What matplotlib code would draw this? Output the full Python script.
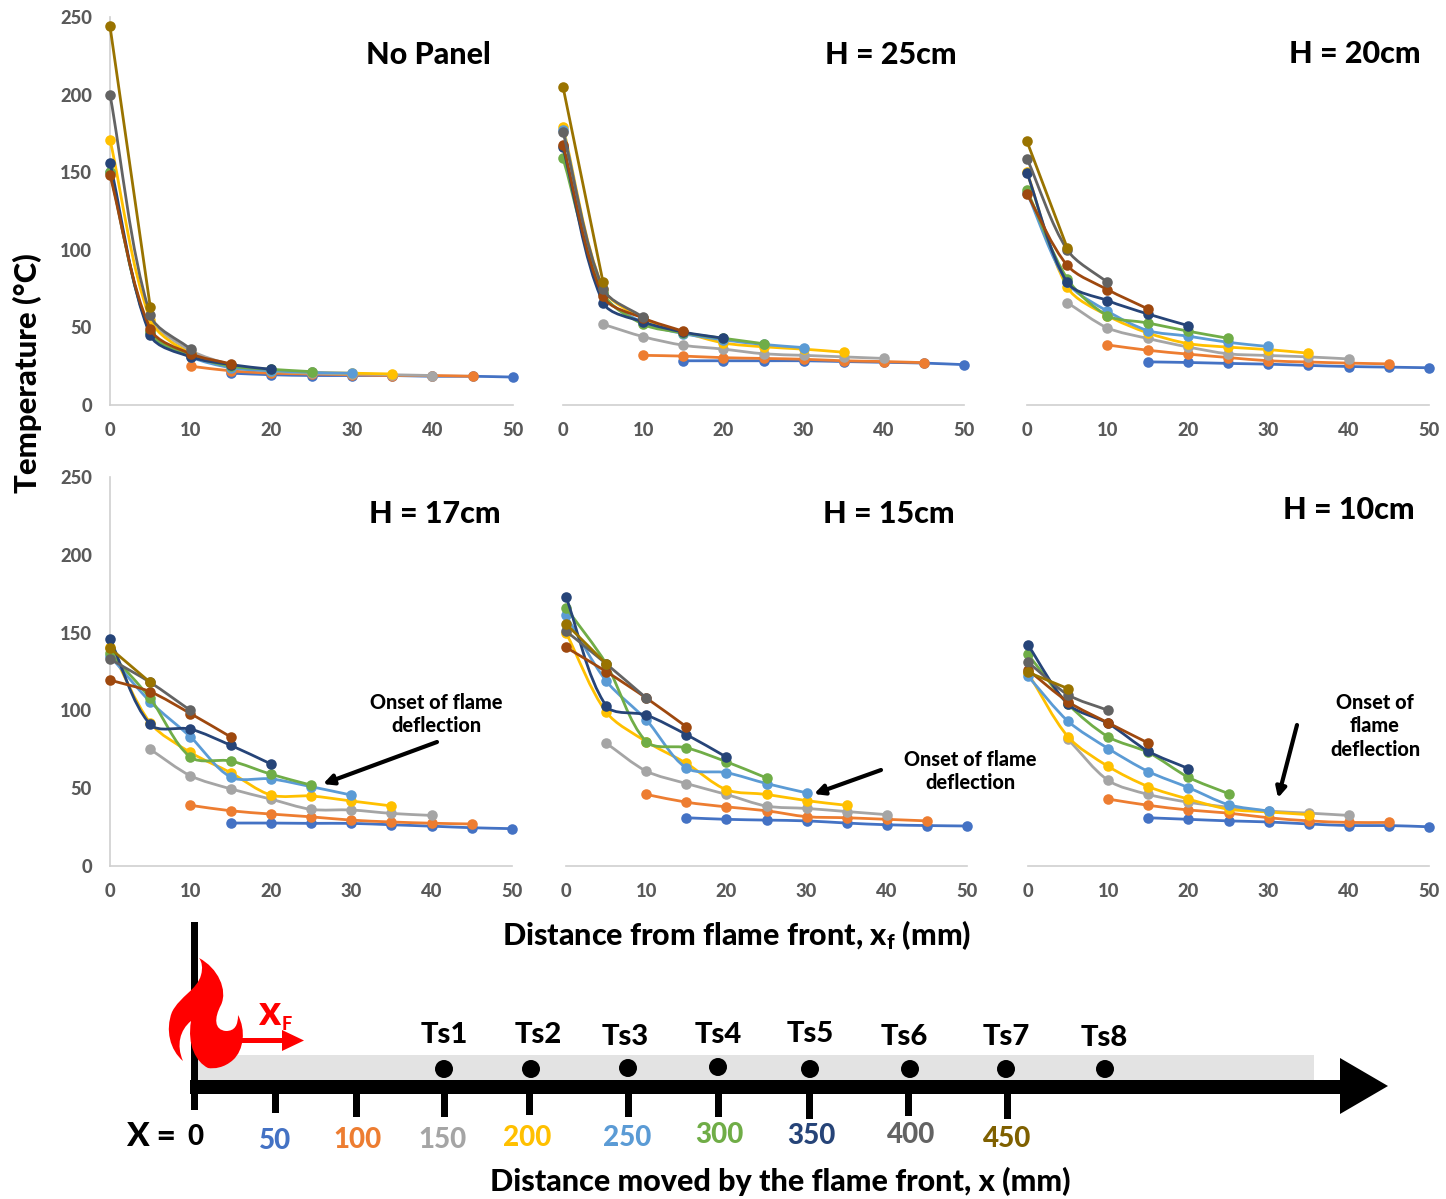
import numpy as np
import matplotlib
matplotlib.use("Agg")
import matplotlib.pyplot as plt
from matplotlib.path import Path
from matplotlib.patches import PathPatch, Rectangle, Polygon, Circle

plt.rcParams['font.family'] = ['Lato', 'DejaVu Sans']
plt.rcParams['font.weight'] = 'bold'
plt.rcParams['mathtext.default'] = 'regular'

W, H = 1446, 1199

# ---- data: temperature (deg C) per thermocouple location x (mm) ----
xf_step = 5
x_locations = ['50', '100', '150', '200', '250', '300', '350', '400', '450']
series_names = ['blue', 'orange', 'gray', 'yellow', 'lightblue', 'green', 'navy', 'brown', 'dgray', 'olive']
series_start = [15, 10, 5, 0, 0, 0, 0, 0, 0, 0]
series_colors = ['#4472C4', '#ED7D31', '#A5A5A5', '#FFC000', '#5B9BD5', '#70AD47', '#264478', '#9E480E', '#636363', '#997300']
panel_titles = ['No Panel', 'H = 25cm', 'H = 20cm', 'H = 17cm', 'H = 15cm', 'H = 10cm']
y_ticks = [0, 50, 100, 150, 200, 250]
x_ticks = [0, 10, 20, 30, 40, 50]

np_blue = [20.5, 19.5, 19, 19, 19, 18.5, 18.5, 18]
np_orange = [25, 22, 20.5, 20, 19.5, 19, 19, 18.5]
np_gray = [52, 35, 26, 22, 20.5, 20, 19.5, 19]
np_yellow = [171, 55, 33, 25, 22, 21, 20.5, 20]
np_lightblue = [150, 47, 31, 24, 22, 21, 20.5]
np_green = [150, 47, 32, 25, 23, 21.5]
np_navy = [156, 45, 31, 26, 23]
np_brown = [148, 49, 33, 26.5]
np_dgray = [200, 58, 36]
np_olive = [244, 63]

h25_blue = [28.5, 28.5, 28.5, 28.5, 28, 27.5, 27, 26]
h25_orange = [32, 31.5, 30.5, 30, 29.5, 28.5, 28, 27.3]
h25_gray = [52, 44, 38.5, 36, 33, 32, 31, 30]
h25_yellow = [179, 75, 56, 47, 40, 37.5, 36, 34]
h25_lightblue = [177.5, 72, 53, 46, 42, 39, 37]
h25_green = [159, 72, 52, 46.5, 43, 39.5]
h25_navy = [166, 66, 53.5, 47, 43]
h25_brown = [167.5, 70, 56, 47.5]
h25_dgray = [176, 75, 56.5]
h25_olive = [205, 79]

h20_blue = [27.8, 27.4, 26.8, 26.3, 25.5, 24.8, 24.4, 24]
h20_orange = [38.7, 35.3, 32.8, 30.6, 28.5, 27.7, 27, 26.5]
h20_gray = [66, 49.7, 42.9, 37.4, 33, 31.9, 31, 29.7]
h20_yellow = [150, 76, 57.6, 46.5, 39.6, 37.3, 35.7, 33.4]
h20_lightblue = [136.7, 79, 60.5, 48, 44.4, 40.4, 37.7]
h20_green = [138.4, 81.5, 57.6, 52.9, 47.6, 43]
h20_navy = [149.6, 79, 67.3, 58.7, 51.2]
h20_brown = [136, 90, 74.4, 62]
h20_dgray = [158.8, 100, 79]
h20_olive = [169.8, 101.3]

h17_blue = [27.6, 27.6, 27.4, 27.4, 26.5, 25.6, 24.6, 24]
h17_orange = [39, 35.5, 33.4, 31.6, 29.5, 28.3, 27.5, 27]
h17_gray = [75, 58, 49.6, 43, 36.4, 36, 33.8, 32.5]
h17_yellow = [141, 92, 73, 60, 45.6, 45, 41.8, 38.6]
h17_lightblue = [135, 105.6, 83, 57.2, 56, 51, 45.6]
h17_green = [137, 107.7, 70, 67.5, 59, 52]
h17_navy = [146, 91, 88, 77.6, 65.6]
h17_brown = [119.5, 112, 98, 83]
h17_dgray = [133, 118, 100]
h17_olive = [140, 118]

h15_blue = [31, 30, 29.5, 29, 27.6, 26.5, 26, 25.7]
h15_orange = [46, 41, 38, 35.5, 31.7, 31, 30, 29]
h15_gray = [79, 61, 53, 46, 38.5, 37, 35, 33]
h15_yellow = [150, 99, 80, 66, 49, 46, 42, 39]
h15_lightblue = [161, 119, 94, 63, 60, 53, 47]
h15_green = [166, 130, 80, 76, 67, 56.6]
h15_navy = [173, 103, 97, 84.5, 70]
h15_brown = [140.5, 125, 108, 89.5]
h15_dgray = [151, 130, 108]
h15_olive = [155.6, 130]

h10_blue = [31, 30, 29, 28.3, 27, 26, 26, 25.2]
h10_orange = [43, 39, 36, 34, 31, 29, 28, 28]
h10_gray = [81.4, 55, 46, 41, 37.8, 35.3, 34, 32.5]
h10_yellow = [124, 83, 64, 51, 43, 36.5, 34.7, 33]
h10_lightblue = [122, 93, 75.5, 60.7, 50.4, 39.4, 35.3]
h10_green = [136, 104, 83, 73, 57, 46.5]
h10_navy = [142, 104, 91.6, 73.7, 62.6]
h10_brown = [126, 105.5, 92, 79]
h10_dgray = [131, 110, 100]
h10_olive = [124.5, 114]

panel_data = [
    [np_blue, np_orange, np_gray, np_yellow, np_lightblue, np_green, np_navy, np_brown, np_dgray, np_olive],
    [h25_blue, h25_orange, h25_gray, h25_yellow, h25_lightblue, h25_green, h25_navy, h25_brown, h25_dgray, h25_olive],
    [h20_blue, h20_orange, h20_gray, h20_yellow, h20_lightblue, h20_green, h20_navy, h20_brown, h20_dgray, h20_olive],
    [h17_blue, h17_orange, h17_gray, h17_yellow, h17_lightblue, h17_green, h17_navy, h17_brown, h17_dgray, h17_olive],
    [h15_blue, h15_orange, h15_gray, h15_yellow, h15_lightblue, h15_green, h15_navy, h15_brown, h15_dgray, h15_olive],
    [h10_blue, h10_orange, h10_gray, h10_yellow, h10_lightblue, h10_green, h10_navy, h10_brown, h10_dgray, h10_olive],
]

fig = plt.figure(figsize=(W / 100, H / 100), dpi=100, facecolor='white')


def add_ax(x0, x1, ytop, ybot):
    return fig.add_axes([x0 / W, 1 - ybot / H, (x1 - x0) / W, (ybot - ytop) / H])


panel_boxes = [(110, 513, 17, 405), (563, 964, 17, 405), (1027, 1429, 17, 405),
               (110, 512, 477, 866), (566, 967, 477, 866), (1028, 1429, 477, 866)]


def smooth_path(ax, xs, ys):
    """Smoothed line like a spreadsheet chart: Bezier through every point."""
    P = ax.transData.transform(np.column_stack([xs, ys]))
    verts = [P[0]]
    codes = [Path.MOVETO]
    n = len(P)
    for i in range(n - 1):
        p0 = P[max(i - 1, 0)]
        p1 = P[i]
        p2 = P[i + 1]
        p3 = P[min(i + 2, n - 1)]
        seg = np.linalg.norm(p2 - p1)
        t1 = (p2 - p0) / max(np.linalg.norm(p2 - p0), 1e-9)
        t2 = (p3 - p1) / max(np.linalg.norm(p3 - p1), 1e-9)
        verts += [p1 + t1 * seg * 0.3, p2 - t2 * seg * 0.3, p2]
        codes += [Path.CURVE4] * 3
    verts = ax.transData.inverted().transform(np.array(verts))
    return Path(verts, codes)


for k, box in enumerate(panel_boxes):
    ax = add_ax(*box)
    ax.set_xlim(0, 50)
    ax.set_ylim(0, 250)
    ax.patch.set_alpha(0)
    for s in ['top', 'right']:
        ax.spines[s].set_visible(False)
    ax.spines['left'].set_visible(k in (0, 3))
    for s in ['left', 'bottom']:
        ax.spines[s].set_color('#CFCFCF')
        ax.spines[s].set_linewidth(1.2)
    ax.set_xticks(x_ticks)
    ax.tick_params(axis='both', length=0, labelcolor='#595959', labelsize=13.2)
    ax.tick_params(axis='x', pad=12.5)
    ax.tick_params(axis='y', pad=13)
    if k in (0, 3):
        ax.set_yticks(y_ticks)
    else:
        ax.set_yticks([])
    for lab in ax.get_xticklabels() + ax.get_yticklabels():
        lab.set_fontweight(900)
    for i, vals in enumerate(panel_data[k]):
        xs = series_start[i] + xf_step * np.arange(len(vals))
        z = 3 + i * 0.01
        ax.add_patch(PathPatch(smooth_path(ax, xs, vals), fc='none', ec=series_colors[i],
                               lw=2.0, zorder=z, clip_on=False))
        ax.plot(xs, vals, 'o', color=series_colors[i], ms=7.6, mew=0, zorder=z, clip_on=False)

# overlay in pixel coordinates for titles, notes and the schematic
ov = fig.add_axes([0, 0, 1, 1], zorder=10)
ov.set_xlim(0, W)
ov.set_ylim(H, 0)
ov.axis('off')


def txt(x, y, s, size, color='black', **kw):
    ov.text(x, y, s, fontsize=size, color=color, ha='center', va='center', fontweight=900, **kw)


title_pos = [(428, 55), (891, 55), (1355, 54), (435, 514), (889, 514), (1349, 510)]
for (tx, ty), t in zip(title_pos, panel_titles):
    txt(tx, ty, t, 22)

txt(27, 373, 'Temperature (°C)', 22.4, rotation=90)
txt(737, 935, r'Distance from flame front, x$_{\mathregular{f}}$ (mm)', 22)
txt(780, 1181, 'Distance moved by the flame front, x (mm)', 22)

txt(436, 714, 'Onset of flame\ndeflection', 14.3, linespacing=1.3)
txt(970, 771, 'Onset of flame\ndeflection', 14.3, linespacing=1.3)
txt(1375, 726, 'Onset of\nflame\ndeflection', 14.3, linespacing=1.3)
for start, end in [((437, 742), (323, 784)), ((881, 770), (814, 794)), ((1297, 725), (1278, 798))]:
    ov.annotate('', xy=end, xytext=start,
                arrowprops=dict(arrowstyle='-|>,head_length=0.6,head_width=0.3', lw=3, color='black',
                                shrinkA=0, shrinkB=0))

# schematic
ov.add_patch(Rectangle((198, 1055), 1116, 25, fc='#E3E3E3', ec='none'))
ov.add_patch(Rectangle((191, 922), 7, 158, fc='black', ec='none'))
ov.add_patch(Rectangle((190, 1080), 1155, 14, fc='black', ec='none'))
ov.add_patch(Polygon([(1340, 1058), (1388, 1086), (1340, 1114)], fc='black', ec='none'))

scale_ticks = [194, 275, 356, 444, 529, 628, 718, 809, 908, 1007]
scale_ends = [1110, 1113, 1117, 1117, 1115, 1117, 1117, 1119, 1116, 1119]
for tx, te in zip(scale_ticks, scale_ends):
    ov.add_patch(Rectangle((tx - 3.5, 1090), 7, te - 1090, fc='black', ec='none'))

dots = [(444, 1069), (531, 1069), (628, 1068), (718, 1067), (810, 1069), (910, 1069), (1006, 1069), (1105, 1069)]
for c in dots:
    ov.add_patch(Circle(c, 9, fc='black', ec='none'))
ts_labels = ['Ts1', 'Ts2', 'Ts3', 'Ts4', 'Ts5', 'Ts6', 'Ts7', 'Ts8']
ts_pos = [(444, 1035), (538, 1035), (625, 1037), (718, 1035), (810, 1034), (904, 1037), (1006, 1037), (1104, 1038)]
for (tx, ty), s in zip(ts_pos, ts_labels):
    txt(tx, ty, s, 21)

txt(151, 1137, 'X =', 24)
txt(195, 1137, '0', 20)
loc_pos = [(275, 1141), (358, 1140), (443, 1140), (527, 1138), (627, 1138), (719, 1135), (811, 1136), (911, 1135), (1007, 1139)]
loc_colors = ['#4472C4', '#ED7D31', '#A5A5A5', '#FFC000', '#5B9BD5', '#70AD47', '#264478', '#636363', '#7F6000']
for (tx, ty), s, c in zip(loc_pos, x_locations, loc_colors):
    txt(tx, ty, s, 20, color=c)

# flame
flame_v = [(199, 958),
           (218, 968), (228, 990), (221, 1005),
           (214, 1018), (214, 1030), (226, 1031),
           (235, 1031), (238, 1025), (238, 1015),
           (246, 1030), (244, 1050), (233, 1060),
           (224, 1068), (214, 1069), (208, 1068),
           (196, 1062), (187, 1045), (191, 1021),
           (180, 1030), (176, 1045), (183, 1061),
           (170, 1050), (165, 1030), (172, 1012),
           (180, 996), (197, 990), (201, 975),
           (203, 968), (202, 962), (199, 958)]
flame_c = [Path.MOVETO] + [Path.CURVE4] * 30
ov.add_patch(PathPatch(Path(flame_v, flame_c), fc='#FF0000', ec='none', zorder=5))
ov.add_patch(Rectangle((238, 1038), 48, 5, fc='#FF0000', ec='none', zorder=5))
ov.add_patch(Polygon([(282, 1030), (304, 1040.5), (282, 1051)], fc='#FF0000', ec='none', zorder=5))
txt(269, 1013, 'x', 30, color='#FF0000')
txt(287, 1024, 'F', 13, color='#FF0000')

fig.savefig('out.png', dpi=100)
